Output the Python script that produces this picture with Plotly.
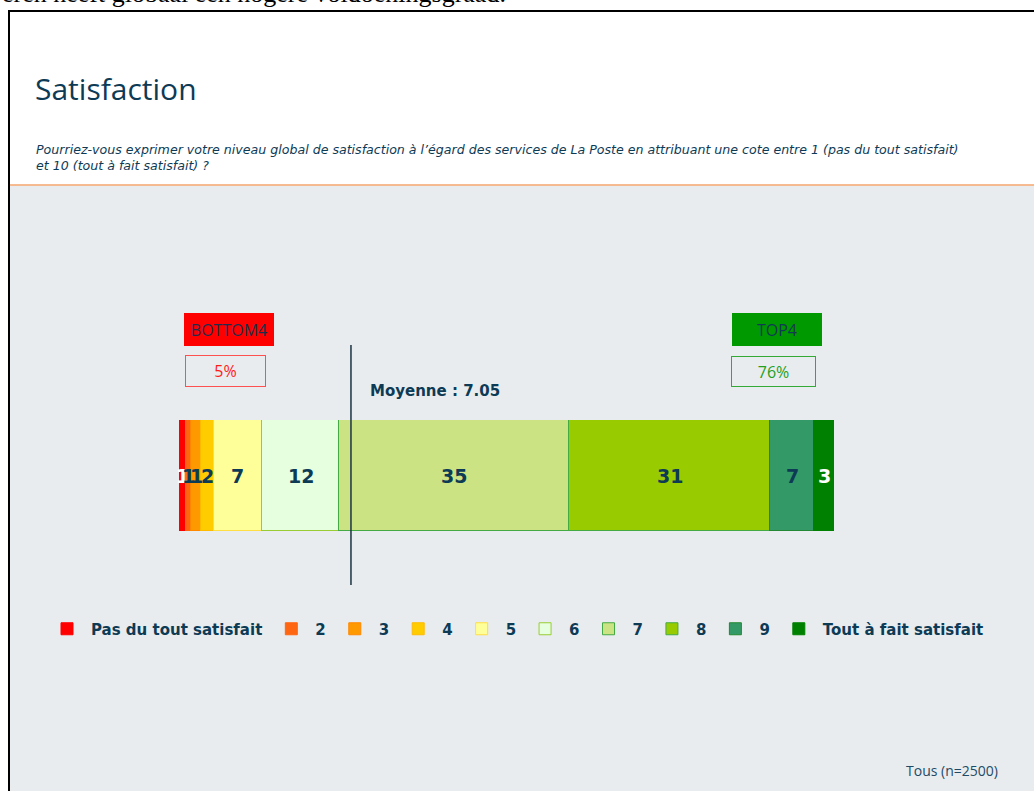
import plotly.graph_objects as go

# ---------------- data ----------------
categories = ["Pas du tout satisfait", "2", "3", "4", "5", "6", "7", "8", "9",
              "Tout à fait satisfait"]
shares = [1.1, 0.8, 1.4, 2.0, 7.3, 11.9, 35.1, 30.7, 6.6, 3.2]   # % of respondents
mean_score = 7.05
sample_n = 2500
bottom_label = "BOTTOM4"
top_label = "TOP4"

title_text = "Satisfaction"
question_text = ("Pourriez-vous exprimer votre niveau global de satisfaction à l’égard des services "
                 "de La Poste en attribuant une cote entre 1 (pas du tout satisfait)<br>"
                 "et 10 (tout à fait satisfait) ?")
cut_text = "eren heeft globaal een hogere voldoeningsgraad."

# ---------------- derived ----------------
labels = [round(s) for s in shares]
bottom4 = round(sum(shares[:4]))
top4 = round(sum(shares[-4:]))
cum = []
acc = 0.0
for s in shares:
    cum.append(acc)
    acc += s
mean_cat = int(mean_score)                     # category containing the mean
mean_pos = cum[mean_cat - 1] + (mean_score - mean_cat) * shares[mean_cat - 1]

# ---------------- styles ----------------
NAVY = "#0D3A55"
fill_colors = ["#FF0000", "#FF6611", "#FF9900", "#FFCC00", "#FFFF99",
               "#E5FFDF", "#CCE383", "#99CC00", "#339966", "#008000"]
line_colors = ["#FF0000", "#FF6611", "#FF8800", "#FFBB00", "#FFDD44",
               "#99CC33", "#44AA44", "#44AA44", "#228833", "#008000"]
label_colors = ["#FFFFFF"] + [NAVY] * 8 + ["#FFFFFF"]

W, H = 1034, 791
def px(x):
    return x / W
def py(y):
    return 1 - y / H

fig = go.Figure()
for i, cat in enumerate(categories):
    fig.add_trace(go.Bar(
        x=[shares[i]], y=[0], orientation="h", name=cat, width=1,
        marker=dict(color=fill_colors[i], line=dict(color=line_colors[i], width=1)),
        hoverinfo="skip",
    ))

annotations = []
# value labels in the segments
for i, s in enumerate(shares):
    annotations.append(dict(
        x=cum[i] + s / 2, y=0, xref="x", yref="y", text=str(labels[i]), showarrow=False,
        font=dict(family="DejaVu Sans", size=19, color=label_colors[i], weight="bold"),
    ))

annotations += [
    dict(x=0, y=py(10), xref="paper", yref="paper", xanchor="left", yanchor="bottom",
         text=cut_text, showarrow=False,
         font=dict(family="Liberation Serif", size=26, color="#000000")),
    dict(x=px(33), y=py(88), xref="paper", yref="paper", xanchor="left", yanchor="middle",
         text=title_text, showarrow=False,
         font=dict(family="Open Sans", size=30, color=NAVY)),
    dict(x=px(34), y=py(157), xref="paper", yref="paper", xanchor="left", yanchor="middle",
         text="<i>" + question_text + "</i>", showarrow=False, align="left",
         font=dict(family="DejaVu Sans", size=12.6, color=NAVY)),
    dict(x=px(229), y=py(329.5), xref="paper", yref="paper", xanchor="center", yanchor="middle",
         text=bottom_label, showarrow=False, width=90, height=33, bgcolor="#FF0000",
         borderpad=0, borderwidth=0,
         font=dict(family="Open Sans", size=16, color="#1A2E50")),
    dict(x=px(225.5), y=py(371), xref="paper", yref="paper", xanchor="center", yanchor="middle",
         text=f"{bottom4}%", showarrow=False, width=79, height=30,
         bordercolor="#FF5050", borderwidth=1, borderpad=0,
         font=dict(family="Open Sans", size=16, color="#FF1A1A")),
    dict(x=px(777), y=py(329.5), xref="paper", yref="paper", xanchor="center", yanchor="middle",
         text=top_label, showarrow=False, width=90, height=33, bgcolor="#009900",
         borderpad=0, borderwidth=0,
         font=dict(family="Open Sans", size=16, color="#123A55")),
    dict(x=px(773.5), y=py(371.5), xref="paper", yref="paper", xanchor="center", yanchor="middle",
         text=f"{top4}%", showarrow=False, width=83, height=29,
         bordercolor="#33AA33", borderwidth=1, borderpad=0,
         font=dict(family="Open Sans", size=16, color="#22A022")),
    dict(x=px(368), y=py(391), xref="paper", yref="paper", xanchor="left", yanchor="middle",
         text=f"Moyenne : {mean_score:.2f}", showarrow=False,
         font=dict(family="DejaVu Sans", size=15, color=NAVY, weight="bold")),
    dict(x=px(1000), y=py(770), xref="paper", yref="paper", xanchor="right", yanchor="middle",
         text=f"Tous (n={sample_n})", showarrow=False,
         font=dict(family="Open Sans", size=14, color="#1E4A66")),
]

shapes = [
    # grey body
    dict(type="rect", xref="paper", yref="paper", x0=px(9), x1=1.02, y0=-0.02, y1=py(185.5),
         fillcolor="#E9ECEE", line=dict(width=0), layer="below"),
    # orange separator
    dict(type="line", xref="paper", yref="paper", x0=px(9), x1=1.02, y0=py(185), y1=py(185),
         line=dict(color="#F5A56D", width=1.5), layer="below"),
    # black frame
    dict(type="rect", xref="paper", yref="paper", x0=px(9), x1=1.05, y0=-0.05, y1=py(11),
         line=dict(color="#000000", width=2), fillcolor="rgba(0,0,0,0)", layer="above"),
    # mean line
    dict(type="line", xref="x", yref="paper", x0=mean_pos, x1=mean_pos, y0=py(585), y1=py(345),
         line=dict(color="#1B3345", width=1.5), layer="above"),
]

fig.update_layout(
    width=W, height=H,
    margin=dict(l=0, r=0, t=0, b=0),
    paper_bgcolor="#FFFFFF", plot_bgcolor="rgba(0,0,0,0)",
    barmode="stack", bargap=0,
    xaxis=dict(domain=[px(179), px(834)], range=[0, 100], visible=False, fixedrange=True),
    yaxis=dict(domain=[py(531), py(420)], range=[-0.5, 0.5], visible=False, fixedrange=True),
    showlegend=True,
    legend=dict(orientation="h", x=px(516), xanchor="center", y=py(629), yanchor="middle",
                traceorder="normal", bgcolor="rgba(0,0,0,0)", itemwidth=38,
                font=dict(family="DejaVu Sans", size=15, color=NAVY, weight="bold")),
    annotations=annotations,
    shapes=shapes,
)

fig.write_html("out.html", config={"displayModeBar": False},
               post_script="document.body.style.margin='0';document.body.style.overflow='hidden';")
